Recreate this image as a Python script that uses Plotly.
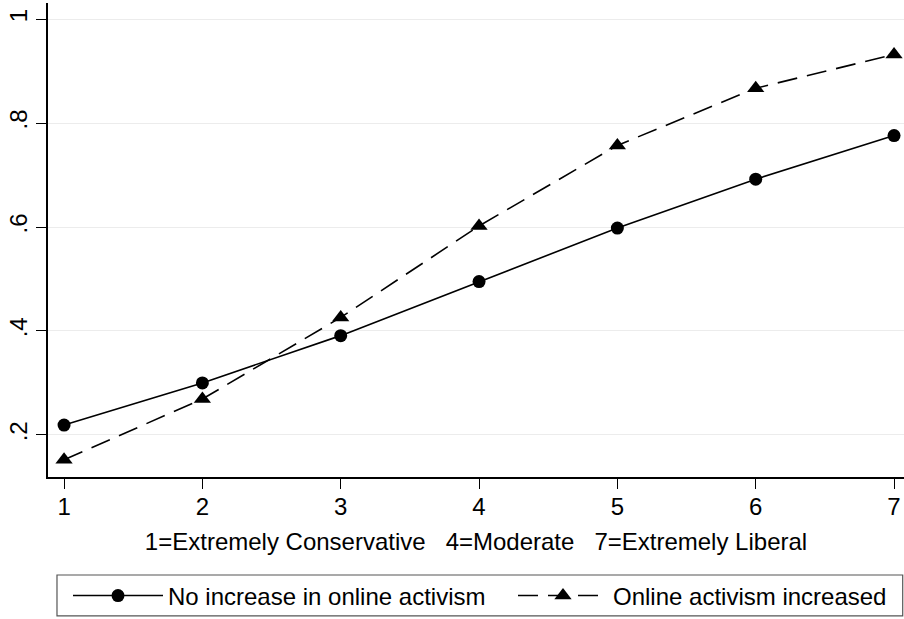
import plotly.graph_objects as go

x_vals = [1, 2, 3, 4, 5, 6, 7]
no_increase = [0.219, 0.300, 0.391, 0.495, 0.598, 0.692, 0.776]
increased = [0.152, 0.269, 0.426, 0.602, 0.757, 0.867, 0.932]
series_names = ["No increase in online activism", "Online activism increased"]
y_ticks = [0.2, 0.4, 0.6, 0.8, 1.0]
y_tick_labels = [".2", ".4", ".6", ".8", "1"]
x_title = "1=Extremely Conservative\u00a0\u00a0\u00a04=Moderate\u00a0\u00a0\u00a07=Extremely Liberal"

FONT = "Liberation Sans, Arial, sans-serif"
FS = 24

fig = go.Figure()
fig.add_trace(go.Scatter(
    x=x_vals, y=no_increase, name=series_names[0], mode="lines+markers",
    line=dict(color="black", width=1.6, dash="solid"),
    marker=dict(symbol="circle", size=13, color="black"),
    legend="legend",
))
fig.add_trace(go.Scatter(
    x=x_vals, y=increased, name=series_names[1], mode="lines+markers",
    line=dict(color="black", width=1.6, dash="20px,10px"),
    marker=dict(symbol="triangle-up", size=15, color="black"),
    legend="legend2",
))

legend_common = dict(
    orientation="h", xanchor="left", y=-0.251, yanchor="middle",
    font=dict(family=FONT, size=FS, color="black"),
    itemwidth=90, bgcolor="rgba(0,0,0,0)", borderwidth=0,
)

fig.update_layout(
    width=904, height=619,
    margin=dict(l=48, r=0, t=3, b=142, pad=0, autoexpand=False),
    paper_bgcolor="white", plot_bgcolor="white",
    font=dict(family=FONT, size=FS, color="black"),
    showlegend=True,
    legend=dict(x=(68 - 48) / 856, **legend_common),
    legend2=dict(x=(513 - 48) / 856, **legend_common),
    xaxis=dict(
        range=[0.884, 7.072], tickmode="array", tickvals=x_vals,
        showgrid=False, zeroline=False, automargin=False,
        showline=True, linecolor="black", linewidth=1.5,
        ticks="outside", ticklen=10, tickcolor="black", tickwidth=1,
        tickfont=dict(size=FS), ticklabelstandoff=-3,
        title=dict(text=x_title, font=dict(size=FS), standoff=15),
    ),
    yaxis=dict(
        range=[0.119, 1.031], tickmode="array", tickvals=y_ticks, ticktext=y_tick_labels,
        showgrid=True, gridcolor="#ececec", gridwidth=1, zeroline=False, automargin=False,
        showline=True, linecolor="black", linewidth=1.5,
        ticks="outside", ticklen=10, tickcolor="black", tickwidth=1,
        tickangle=-90, tickfont=dict(size=FS),
    ),
    shapes=[dict(
        type="rect", xref="paper", yref="paper",
        x0=0.0105, x1=0.9985, y0=-0.293, y1=-0.2068,
        line=dict(color="#555555", width=1.2), fillcolor="rgba(0,0,0,0)",
    )],
)

fig.write_html("out.html", config={"displayModeBar": False},
               post_script="document.body.style.margin='0px';")
